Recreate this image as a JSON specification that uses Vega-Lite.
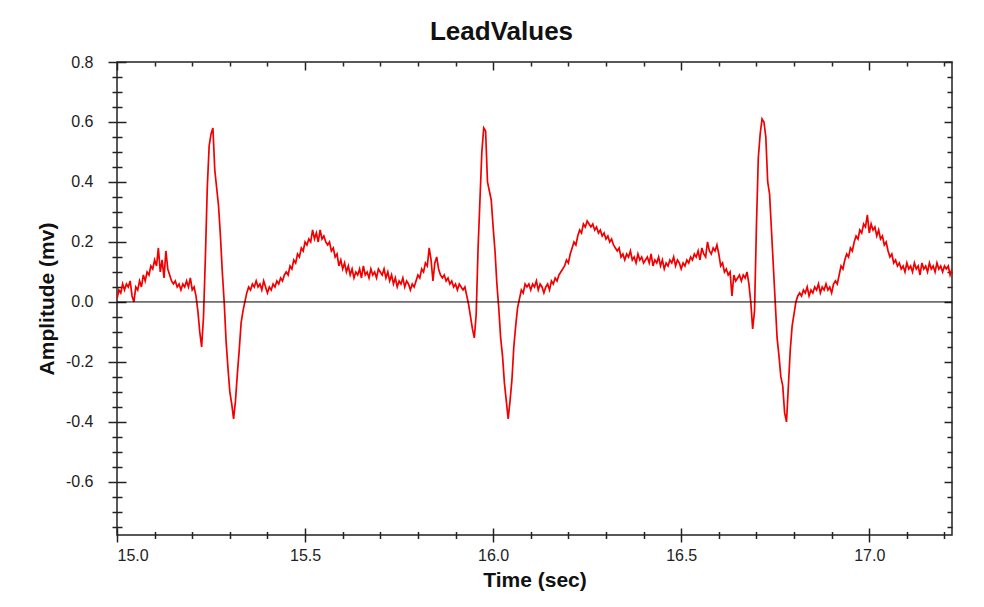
{
"$schema": "https://vega.github.io/schema/vega-lite/v6.json",
"width": 835, "height": 473,
"autosize": {"type": "none"},
"padding": {"left": 117, "top": 62, "right": 32, "bottom": 72},
"background": "white",
"title": {"text": "LeadValues", "font": "Liberation Sans", "fontSize": 26, "fontWeight": "bold", "color": "#111", "dx": -33, "offset": 9},
"config": {
  "view": {"stroke": "#222", "strokeWidth": 1.5},
  "axis": {"grid": false, "domain": false, "labelFont": "Liberation Sans", "labelFontSize": 16, "labelColor": "#222", "tickColor": "#222", "tickWidth": 1.5, "titleFont": "Liberation Sans", "titleFontSize": 21, "titleFontWeight": "bold", "titleColor": "#111"}
},
"data": {"values": [
{"t":15.000,"v":0.01},{"t":15.005,"v":0.04},{"t":15.010,"v":0.03},{"t":15.015,"v":0.06},{"t":15.020,"v":0.04},{"t":15.025,"v":0.06},{"t":15.030,"v":0.05},{"t":15.035,"v":0.07},{"t":15.040,"v":0.02},{"t":15.045,"v":0.00},
{"t":15.050,"v":0.05},{"t":15.055,"v":0.04},{"t":15.060,"v":0.07},{"t":15.065,"v":0.05},{"t":15.070,"v":0.09},{"t":15.075,"v":0.07},{"t":15.080,"v":0.10},{"t":15.085,"v":0.09},{"t":15.090,"v":0.12},{"t":15.095,"v":0.11},
{"t":15.100,"v":0.14},{"t":15.105,"v":0.12},{"t":15.110,"v":0.18},{"t":15.115,"v":0.10},{"t":15.120,"v":0.14},{"t":15.125,"v":0.08},{"t":15.130,"v":0.17},{"t":15.135,"v":0.11},{"t":15.140,"v":0.09},{"t":15.145,"v":0.07},
{"t":15.150,"v":0.06},{"t":15.155,"v":0.07},{"t":15.160,"v":0.05},{"t":15.165,"v":0.06},{"t":15.170,"v":0.04},{"t":15.175,"v":0.06},{"t":15.180,"v":0.05},{"t":15.185,"v":0.07},{"t":15.190,"v":0.05},{"t":15.195,"v":0.08},
{"t":15.200,"v":0.04},{"t":15.205,"v":0.05},{"t":15.210,"v":0.02},{"t":15.215,"v":-0.03},{"t":15.220,"v":-0.10},{"t":15.225,"v":-0.15},{"t":15.230,"v":-0.05},{"t":15.235,"v":0.15},{"t":15.240,"v":0.38},{"t":15.245,"v":0.52},
{"t":15.250,"v":0.56},{"t":15.255,"v":0.58},{"t":15.260,"v":0.44},{"t":15.265,"v":0.38},{"t":15.270,"v":0.32},{"t":15.275,"v":0.22},{"t":15.280,"v":0.10},{"t":15.285,"v":0.00},{"t":15.290,"v":-0.13},{"t":15.295,"v":-0.22},
{"t":15.300,"v":-0.30},{"t":15.305,"v":-0.34},{"t":15.310,"v":-0.39},{"t":15.315,"v":-0.33},{"t":15.320,"v":-0.24},{"t":15.325,"v":-0.16},{"t":15.330,"v":-0.07},{"t":15.335,"v":-0.03},{"t":15.340,"v":0.00},{"t":15.345,"v":0.03},
{"t":15.350,"v":0.05},{"t":15.355,"v":0.04},{"t":15.360,"v":0.06},{"t":15.365,"v":0.05},{"t":15.370,"v":0.07},{"t":15.375,"v":0.05},{"t":15.380,"v":0.06},{"t":15.385,"v":0.04},{"t":15.390,"v":0.07},{"t":15.395,"v":0.05},
{"t":15.400,"v":0.03},{"t":15.405,"v":0.05},{"t":15.410,"v":0.04},{"t":15.415,"v":0.06},{"t":15.420,"v":0.05},{"t":15.425,"v":0.07},{"t":15.430,"v":0.06},{"t":15.435,"v":0.08},{"t":15.440,"v":0.07},{"t":15.445,"v":0.09},
{"t":15.450,"v":0.10},{"t":15.455,"v":0.09},{"t":15.460,"v":0.12},{"t":15.465,"v":0.11},{"t":15.470,"v":0.14},{"t":15.475,"v":0.13},{"t":15.480,"v":0.16},{"t":15.485,"v":0.15},{"t":15.490,"v":0.18},{"t":15.495,"v":0.17},
{"t":15.500,"v":0.20},{"t":15.505,"v":0.19},{"t":15.510,"v":0.21},{"t":15.515,"v":0.20},{"t":15.520,"v":0.24},{"t":15.525,"v":0.21},{"t":15.530,"v":0.23},{"t":15.535,"v":0.20},{"t":15.540,"v":0.24},{"t":15.545,"v":0.21},
{"t":15.550,"v":0.22},{"t":15.555,"v":0.20},{"t":15.560,"v":0.19},{"t":15.565,"v":0.20},{"t":15.570,"v":0.17},{"t":15.575,"v":0.18},{"t":15.580,"v":0.15},{"t":15.585,"v":0.16},{"t":15.590,"v":0.12},{"t":15.595,"v":0.14},
{"t":15.600,"v":0.11},{"t":15.605,"v":0.13},{"t":15.610,"v":0.10},{"t":15.615,"v":0.12},{"t":15.620,"v":0.09},{"t":15.625,"v":0.11},{"t":15.630,"v":0.08},{"t":15.635,"v":0.10},{"t":15.640,"v":0.09},{"t":15.645,"v":0.11},
{"t":15.650,"v":0.08},{"t":15.655,"v":0.12},{"t":15.660,"v":0.09},{"t":15.665,"v":0.10},{"t":15.670,"v":0.08},{"t":15.675,"v":0.11},{"t":15.680,"v":0.09},{"t":15.685,"v":0.10},{"t":15.690,"v":0.08},{"t":15.695,"v":0.11},
{"t":15.700,"v":0.10},{"t":15.705,"v":0.09},{"t":15.710,"v":0.11},{"t":15.715,"v":0.08},{"t":15.720,"v":0.10},{"t":15.725,"v":0.07},{"t":15.730,"v":0.09},{"t":15.735,"v":0.06},{"t":15.740,"v":0.08},{"t":15.745,"v":0.05},
{"t":15.750,"v":0.07},{"t":15.755,"v":0.06},{"t":15.760,"v":0.08},{"t":15.765,"v":0.05},{"t":15.770,"v":0.07},{"t":15.775,"v":0.06},{"t":15.780,"v":0.04},{"t":15.785,"v":0.06},{"t":15.790,"v":0.05},{"t":15.795,"v":0.07},
{"t":15.800,"v":0.09},{"t":15.805,"v":0.08},{"t":15.810,"v":0.11},{"t":15.815,"v":0.10},{"t":15.820,"v":0.13},{"t":15.825,"v":0.12},{"t":15.830,"v":0.18},{"t":15.835,"v":0.14},{"t":15.840,"v":0.07},{"t":15.845,"v":0.13},
{"t":15.850,"v":0.15},{"t":15.855,"v":0.11},{"t":15.860,"v":0.09},{"t":15.865,"v":0.08},{"t":15.870,"v":0.09},{"t":15.875,"v":0.07},{"t":15.880,"v":0.08},{"t":15.885,"v":0.06},{"t":15.890,"v":0.07},{"t":15.895,"v":0.05},
{"t":15.900,"v":0.06},{"t":15.905,"v":0.04},{"t":15.910,"v":0.06},{"t":15.915,"v":0.05},{"t":15.920,"v":0.04},{"t":15.925,"v":0.05},{"t":15.930,"v":0.02},{"t":15.935,"v":-0.01},{"t":15.940,"v":-0.05},{"t":15.945,"v":-0.09},
{"t":15.950,"v":-0.12},{"t":15.955,"v":-0.04},{"t":15.960,"v":0.18},{"t":15.965,"v":0.34},{"t":15.970,"v":0.50},{"t":15.975,"v":0.58},{"t":15.980,"v":0.57},{"t":15.985,"v":0.40},{"t":15.990,"v":0.37},{"t":15.995,"v":0.34},
{"t":16.000,"v":0.25},{"t":16.005,"v":0.17},{"t":16.010,"v":0.06},{"t":16.015,"v":-0.02},{"t":16.020,"v":-0.12},{"t":16.025,"v":-0.18},{"t":16.030,"v":-0.27},{"t":16.035,"v":-0.33},{"t":16.040,"v":-0.39},{"t":16.045,"v":-0.33},
{"t":16.050,"v":-0.26},{"t":16.055,"v":-0.15},{"t":16.060,"v":-0.08},{"t":16.065,"v":-0.02},{"t":16.070,"v":0.01},{"t":16.075,"v":0.04},{"t":16.080,"v":0.03},{"t":16.085,"v":0.06},{"t":16.090,"v":0.05},{"t":16.095,"v":0.06},
{"t":16.100,"v":0.04},{"t":16.105,"v":0.06},{"t":16.110,"v":0.05},{"t":16.115,"v":0.07},{"t":16.120,"v":0.04},{"t":16.125,"v":0.06},{"t":16.130,"v":0.05},{"t":16.135,"v":0.03},{"t":16.140,"v":0.05},{"t":16.145,"v":0.06},
{"t":16.150,"v":0.04},{"t":16.155,"v":0.07},{"t":16.160,"v":0.06},{"t":16.165,"v":0.08},{"t":16.170,"v":0.07},{"t":16.175,"v":0.09},{"t":16.180,"v":0.10},{"t":16.185,"v":0.11},{"t":16.190,"v":0.12},{"t":16.195,"v":0.14},
{"t":16.200,"v":0.13},{"t":16.205,"v":0.16},{"t":16.210,"v":0.18},{"t":16.215,"v":0.20},{"t":16.220,"v":0.19},{"t":16.225,"v":0.22},{"t":16.230,"v":0.24},{"t":16.235,"v":0.23},{"t":16.240,"v":0.26},{"t":16.245,"v":0.25},
{"t":16.250,"v":0.27},{"t":16.255,"v":0.26},{"t":16.260,"v":0.25},{"t":16.265,"v":0.26},{"t":16.270,"v":0.24},{"t":16.275,"v":0.25},{"t":16.280,"v":0.23},{"t":16.285,"v":0.24},{"t":16.290,"v":0.22},{"t":16.295,"v":0.23},
{"t":16.300,"v":0.21},{"t":16.305,"v":0.22},{"t":16.310,"v":0.20},{"t":16.315,"v":0.21},{"t":16.320,"v":0.19},{"t":16.325,"v":0.18},{"t":16.330,"v":0.17},{"t":16.335,"v":0.18},{"t":16.340,"v":0.15},{"t":16.345,"v":0.16},
{"t":16.350,"v":0.14},{"t":16.355,"v":0.16},{"t":16.360,"v":0.15},{"t":16.365,"v":0.17},{"t":16.370,"v":0.14},{"t":16.375,"v":0.15},{"t":16.380,"v":0.13},{"t":16.385,"v":0.16},{"t":16.390,"v":0.14},{"t":16.395,"v":0.15},
{"t":16.400,"v":0.13},{"t":16.405,"v":0.14},{"t":16.410,"v":0.15},{"t":16.415,"v":0.13},{"t":16.420,"v":0.16},{"t":16.425,"v":0.12},{"t":16.430,"v":0.14},{"t":16.435,"v":0.13},{"t":16.440,"v":0.15},{"t":16.445,"v":0.12},
{"t":16.450,"v":0.14},{"t":16.455,"v":0.11},{"t":16.460,"v":0.13},{"t":16.465,"v":0.12},{"t":16.470,"v":0.14},{"t":16.475,"v":0.13},{"t":16.480,"v":0.15},{"t":16.485,"v":0.12},{"t":16.490,"v":0.14},{"t":16.495,"v":0.13},
{"t":16.500,"v":0.11},{"t":16.505,"v":0.13},{"t":16.510,"v":0.12},{"t":16.515,"v":0.14},{"t":16.520,"v":0.13},{"t":16.525,"v":0.15},{"t":16.530,"v":0.14},{"t":16.535,"v":0.16},{"t":16.540,"v":0.15},{"t":16.545,"v":0.17},
{"t":16.550,"v":0.14},{"t":16.555,"v":0.18},{"t":16.560,"v":0.16},{"t":16.565,"v":0.15},{"t":16.570,"v":0.20},{"t":16.575,"v":0.17},{"t":16.580,"v":0.16},{"t":16.585,"v":0.18},{"t":16.590,"v":0.17},{"t":16.595,"v":0.19},
{"t":16.600,"v":0.16},{"t":16.605,"v":0.12},{"t":16.610,"v":0.13},{"t":16.615,"v":0.10},{"t":16.620,"v":0.11},{"t":16.625,"v":0.09},{"t":16.630,"v":0.10},{"t":16.635,"v":0.02},{"t":16.640,"v":0.09},{"t":16.645,"v":0.07},
{"t":16.650,"v":0.08},{"t":16.655,"v":0.09},{"t":16.660,"v":0.07},{"t":16.665,"v":0.09},{"t":16.670,"v":0.08},{"t":16.675,"v":0.10},{"t":16.680,"v":0.06},{"t":16.685,"v":0.00},{"t":16.690,"v":-0.09},{"t":16.695,"v":-0.03},
{"t":16.700,"v":0.25},{"t":16.705,"v":0.48},{"t":16.710,"v":0.56},{"t":16.715,"v":0.61},{"t":16.720,"v":0.60},{"t":16.725,"v":0.55},{"t":16.730,"v":0.40},{"t":16.735,"v":0.36},{"t":16.740,"v":0.24},{"t":16.745,"v":0.12},
{"t":16.750,"v":0.00},{"t":16.755,"v":-0.12},{"t":16.760,"v":-0.18},{"t":16.765,"v":-0.25},{"t":16.770,"v":-0.28},{"t":16.775,"v":-0.37},{"t":16.780,"v":-0.40},{"t":16.785,"v":-0.28},{"t":16.790,"v":-0.16},{"t":16.795,"v":-0.08},
{"t":16.800,"v":-0.04},{"t":16.805,"v":0.00},{"t":16.810,"v":0.02},{"t":16.815,"v":0.03},{"t":16.820,"v":0.02},{"t":16.825,"v":0.04},{"t":16.830,"v":0.03},{"t":16.835,"v":0.05},{"t":16.840,"v":0.02},{"t":16.845,"v":0.04},
{"t":16.850,"v":0.03},{"t":16.855,"v":0.05},{"t":16.860,"v":0.04},{"t":16.865,"v":0.06},{"t":16.870,"v":0.03},{"t":16.875,"v":0.05},{"t":16.880,"v":0.04},{"t":16.885,"v":0.06},{"t":16.890,"v":0.04},{"t":16.895,"v":0.05},
{"t":16.900,"v":0.03},{"t":16.905,"v":0.06},{"t":16.910,"v":0.07},{"t":16.915,"v":0.06},{"t":16.920,"v":0.09},{"t":16.925,"v":0.12},{"t":16.930,"v":0.11},{"t":16.935,"v":0.14},{"t":16.940,"v":0.16},{"t":16.945,"v":0.15},
{"t":16.950,"v":0.18},{"t":16.955,"v":0.17},{"t":16.960,"v":0.20},{"t":16.965,"v":0.22},{"t":16.970,"v":0.21},{"t":16.975,"v":0.24},{"t":16.980,"v":0.23},{"t":16.985,"v":0.26},{"t":16.990,"v":0.25},{"t":16.995,"v":0.29},
{"t":17.000,"v":0.23},{"t":17.005,"v":0.26},{"t":17.010,"v":0.24},{"t":17.015,"v":0.25},{"t":17.020,"v":0.22},{"t":17.025,"v":0.24},{"t":17.030,"v":0.21},{"t":17.035,"v":0.22},{"t":17.040,"v":0.19},{"t":17.045,"v":0.20},
{"t":17.050,"v":0.17},{"t":17.055,"v":0.15},{"t":17.060,"v":0.16},{"t":17.065,"v":0.13},{"t":17.070,"v":0.14},{"t":17.075,"v":0.12},{"t":17.080,"v":0.13},{"t":17.085,"v":0.11},{"t":17.090,"v":0.12},{"t":17.095,"v":0.10},
{"t":17.100,"v":0.13},{"t":17.105,"v":0.11},{"t":17.110,"v":0.12},{"t":17.115,"v":0.10},{"t":17.120,"v":0.13},{"t":17.125,"v":0.11},{"t":17.130,"v":0.12},{"t":17.135,"v":0.09},{"t":17.140,"v":0.13},{"t":17.145,"v":0.11},
{"t":17.150,"v":0.12},{"t":17.155,"v":0.10},{"t":17.160,"v":0.13},{"t":17.165,"v":0.11},{"t":17.170,"v":0.12},{"t":17.175,"v":0.10},{"t":17.180,"v":0.13},{"t":17.185,"v":0.11},{"t":17.190,"v":0.12},{"t":17.195,"v":0.10},
{"t":17.200,"v":0.12},{"t":17.205,"v":0.11},{"t":17.210,"v":0.12},{"t":17.215,"v":0.09},{"t":17.220,"v":0.11}
]},
"layer": [
  {
    "mark": {"type": "line", "color": "#f20000", "strokeWidth": 1.7, "clip": true},
    "encoding": {
      "x": {"field": "t", "type": "quantitative", "scale": {"domain": [15, 17.22], "nice": false, "zero": false},
        "axis": {"orient": "bottom", "values": [15, 15.5, 16, 16.5, 17], "format": ".1f", "offset": -7, "tickSize": 14, "labelPadding": 5, "title": "Time (sec)", "titlePadding": 6}},
      "y": {"field": "v", "type": "quantitative", "scale": {"domain": [-0.777, 0.8], "nice": false, "zero": false},
        "axis": {"orient": "left", "values": [-0.6, -0.4, -0.2, 0, 0.2, 0.4, 0.6, 0.8], "format": ".1f", "labelExpr": "replace(datum.label, '−', '-')", "offset": -9, "tickSize": 18, "labelPadding": 15, "title": "Amplitude (mv)", "titlePadding": 8}}
    }
  },
  {
    "data": {"values": [{"z": 0}]},
    "mark": {"type": "rule", "color": "#000", "strokeWidth": 1},
    "encoding": {
      "y": {"field": "z", "type": "quantitative", "scale": {"domain": [-0.777, 0.8], "nice": false, "zero": false},
        "axis": {"orient": "left", "values": [-0.75, -0.7, -0.65, -0.55, -0.5, -0.45, -0.35, -0.3, -0.25, -0.15, -0.1, -0.05, 0.05, 0.1, 0.15, 0.25, 0.3, 0.35, 0.45, 0.5, 0.55, 0.65, 0.7, 0.75], "labels": false, "offset": -5, "tickSize": 10, "title": null}}
    }
  },
  {
    "mark": {"type": "line", "opacity": 0},
    "encoding": {
      "x": {"field": "t", "type": "quantitative", "scale": {"domain": [15, 17.22], "nice": false, "zero": false},
        "axis": {"orient": "bottom", "values": [15.1, 15.2, 15.3, 15.4, 15.6, 15.7, 15.8, 15.9, 16.1, 16.2, 16.3, 16.4, 16.6, 16.7, 16.8, 16.9, 17.1, 17.2], "labels": false, "offset": -3.5, "tickSize": 7, "title": null}},
      "y": {"field": "v", "type": "quantitative", "scale": {"domain": [-0.777, 0.8], "nice": false, "zero": false},
        "axis": {"orient": "right", "values": [-0.6, -0.4, -0.2, 0, 0.2, 0.4, 0.6, 0.8], "labels": false, "offset": 0, "tickSize": -8, "title": null}}
    }
  },
  {
    "mark": {"type": "line", "opacity": 0},
    "encoding": {
      "x": {"field": "t", "type": "quantitative", "scale": {"domain": [15, 17.22], "nice": false, "zero": false},
        "axis": {"orient": "top", "values": [15, 15.5, 16, 16.5, 17], "labels": false, "offset": 0, "tickSize": -8, "title": null}},
      "y": {"field": "v", "type": "quantitative", "scale": {"domain": [-0.777, 0.8], "nice": false, "zero": false},
        "axis": {"orient": "right", "values": [-0.75, -0.7, -0.65, -0.55, -0.5, -0.45, -0.35, -0.3, -0.25, -0.15, -0.1, -0.05, 0.05, 0.1, 0.15, 0.25, 0.3, 0.35, 0.45, 0.5, 0.55, 0.65, 0.7, 0.75], "labels": false, "offset": 0, "tickSize": -5, "title": null}}
    }
  },
  {
    "mark": {"type": "line", "opacity": 0},
    "encoding": {
      "x": {"field": "t", "type": "quantitative", "scale": {"domain": [15, 17.22], "nice": false, "zero": false},
        "axis": {"orient": "top", "values": [15.1, 15.2, 15.3, 15.4, 15.6, 15.7, 15.8, 15.9, 16.1, 16.2, 16.3, 16.4, 16.6, 16.7, 16.8, 16.9, 17.1, 17.2], "labels": false, "offset": 0, "tickSize": -4, "title": null}},
      "y": {"field": "v", "type": "quantitative", "scale": {"domain": [-0.777, 0.8], "nice": false, "zero": false}, "axis": null}
    }
  }
],
"resolve": {"axis": {"x": "independent", "y": "independent"}}
}
